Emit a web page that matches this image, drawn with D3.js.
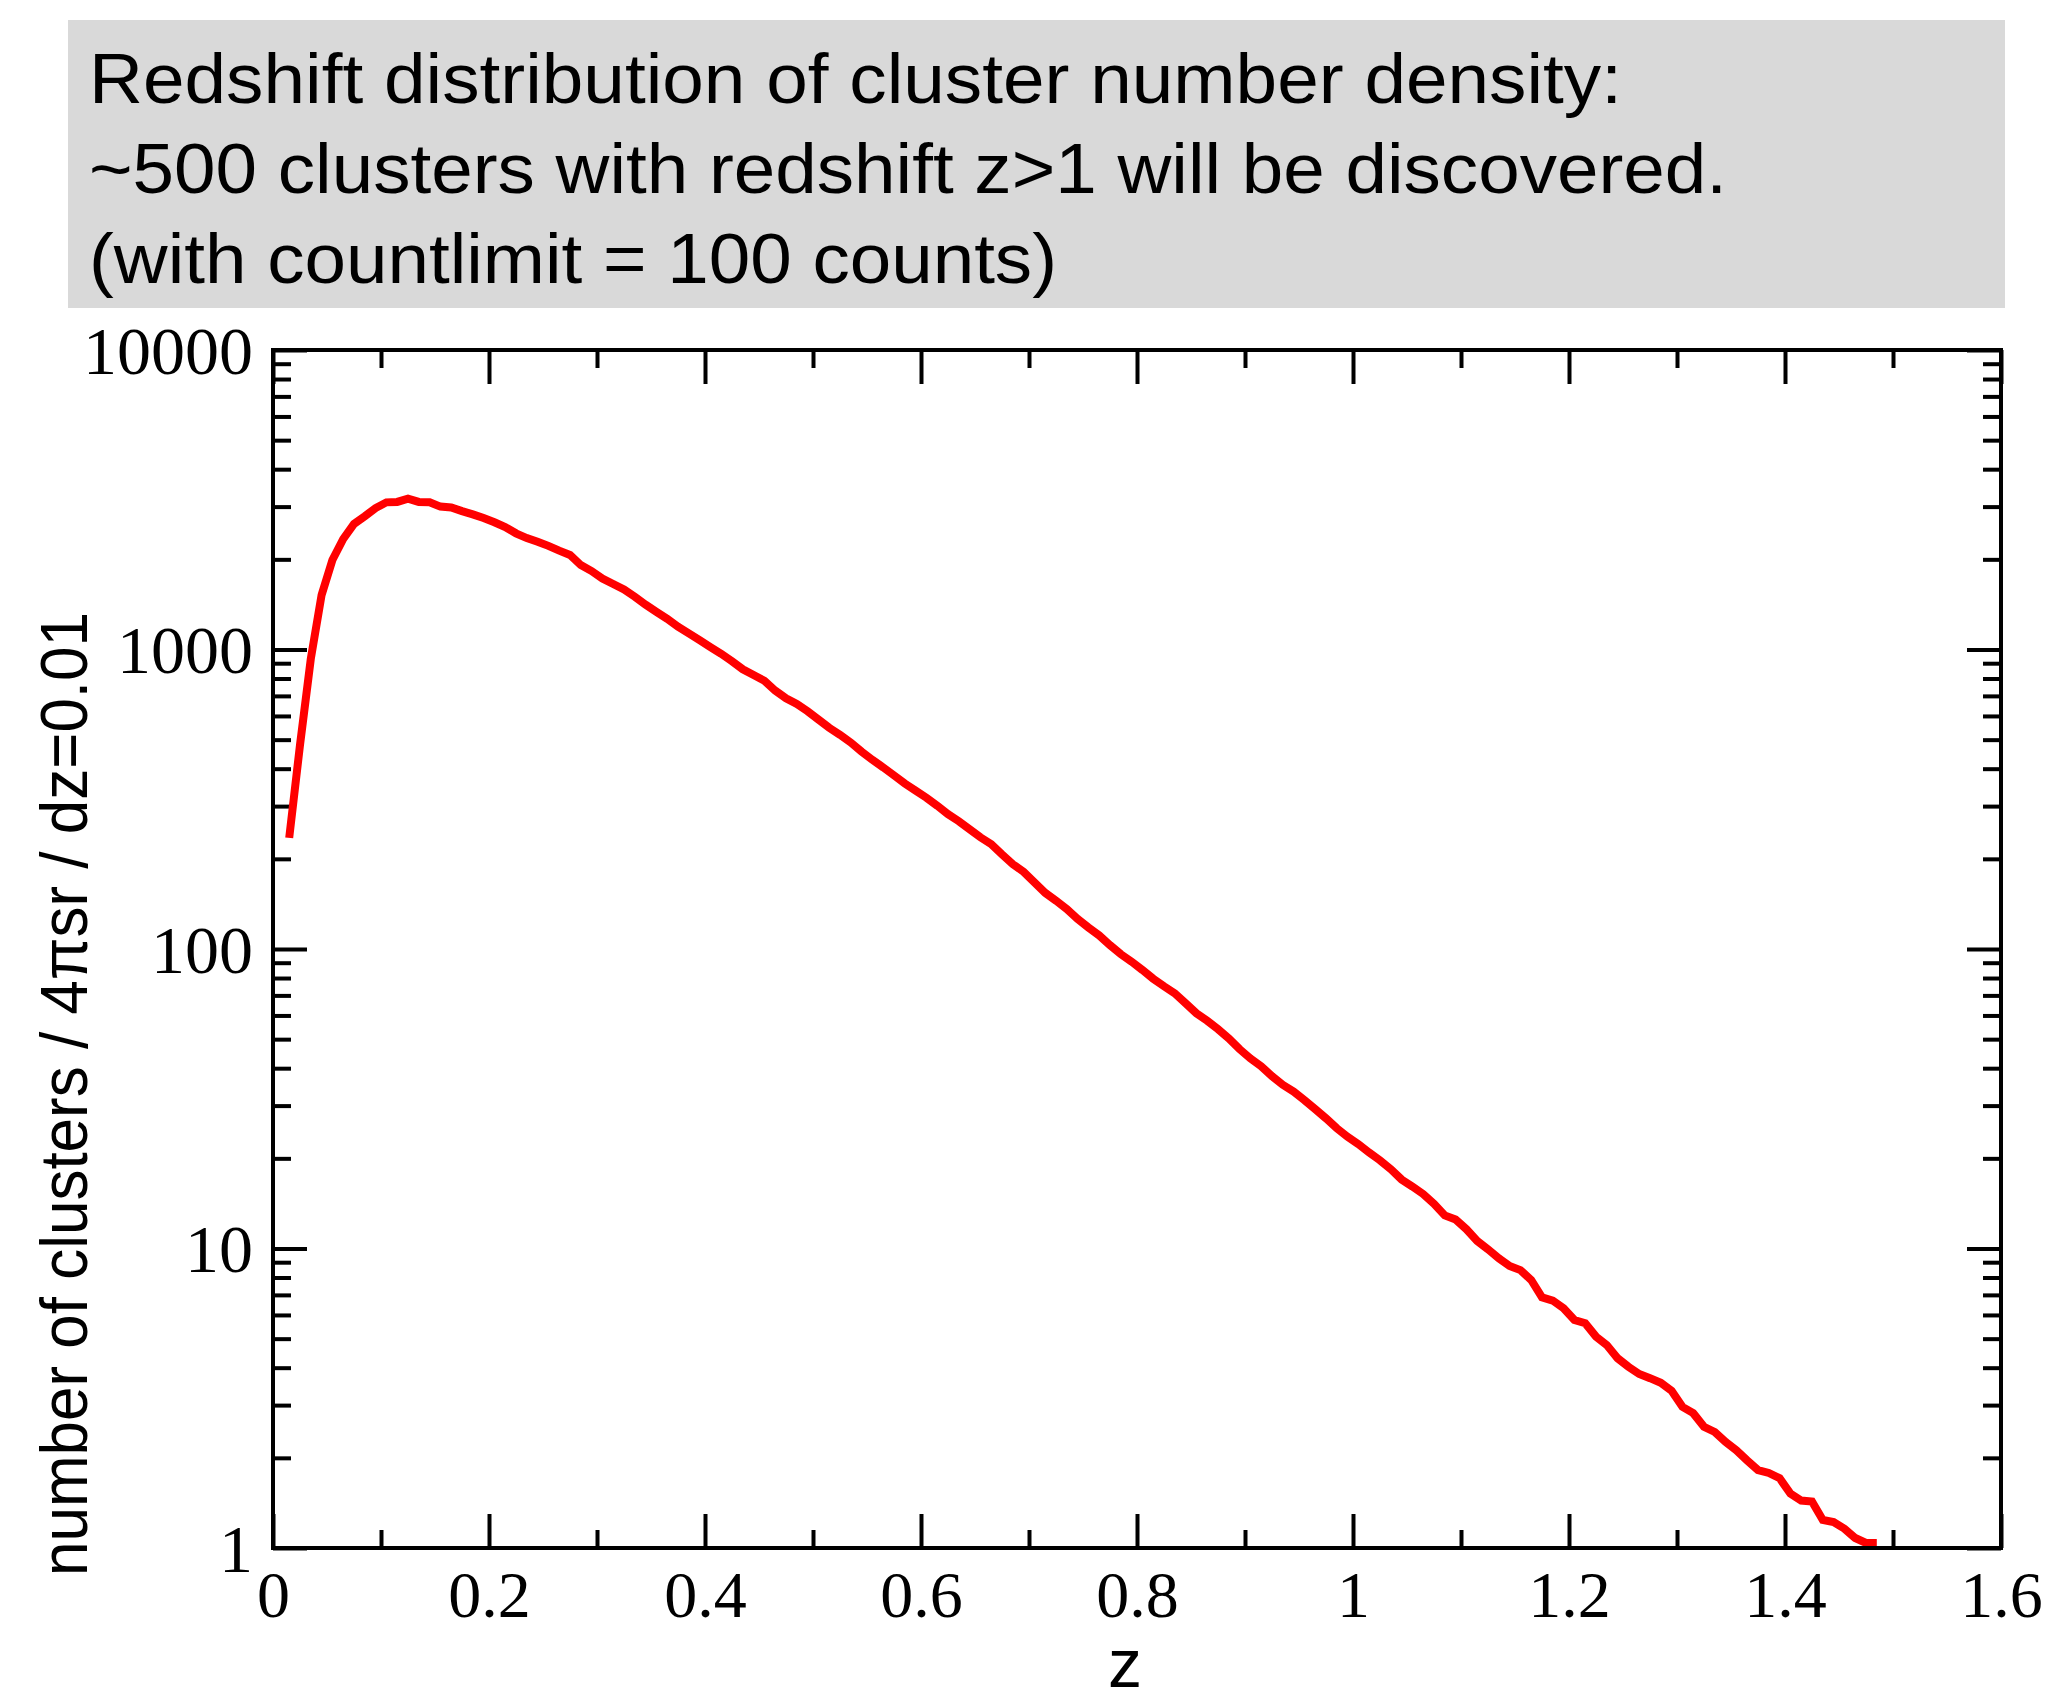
<!DOCTYPE html>
<html><head><meta charset="utf-8">
<script src="https://cdn.jsdelivr.net/npm/d3@7"></script>
<style>body{margin:0;background:#fff;} svg{display:block;}</style>
</head><body>
<svg id="chart" width="2051" height="1703"></svg>
<script>
// ---- data ----
const titleLines = [
  "Redshift distribution of cluster number density:",
  "~500 clusters with redshift z>1 will be discovered.",
  "(with countlimit = 100 counts)"
];
const xLabel = "z";
const yLabel = "number of clusters / 4\u03C0sr / dz=0.01";
const xTickValues = [0, 0.2, 0.4, 0.6, 0.8, 1.0, 1.2, 1.4, 1.6];
const xTickLabels = ["0", "0.2", "0.4", "0.6", "0.8", "1", "1.2", "1.4", "1.6"];
const xMinorTicks = [0.1, 0.3, 0.5, 0.7, 0.9, 1.1, 1.3, 1.5];
const yTickValues = [1, 10, 100, 1000, 10000];
const yTickLabels = ["1", "10", "100", "1000", "10000"];
const yMinorTicks = [2,3,4,5,6,7,8,9,20,30,40,50,60,70,80,90,200,300,400,500,600,700,800,900,2000,3000,4000,5000,6000,7000,8000,9000];

const redshift = [
  0.015,0.025,0.035,0.045,0.055,0.065,0.075,0.085,0.095,
  0.105,0.115,0.125,0.135,0.145,0.155,0.165,0.175,0.185,0.195,
  0.205,0.215,0.225,0.235,0.245,0.255,0.265,0.275,0.285,0.295,
  0.305,0.315,0.325,0.335,0.345,0.355,0.365,0.375,0.385,0.395,
  0.405,0.415,0.425,0.435,0.445,0.455,0.465,0.475,0.485,0.495,
  0.505,0.515,0.525,0.535,0.545,0.555,0.565,0.575,0.585,0.595,
  0.605,0.615,0.625,0.635,0.645,0.655,0.665,0.675,0.685,0.695,
  0.705,0.715,0.725,0.735,0.745,0.755,0.765,0.775,0.785,0.795,
  0.805,0.815,0.825,0.835,0.845,0.855,0.865,0.875,0.885,0.895,
  0.905,0.915,0.925,0.935,0.945,0.955,0.965,0.975,0.985,0.995,
  1.005,1.015,1.025,1.035,1.045,1.055,1.065,1.075,1.085,1.095,
  1.105,1.115,1.125,1.135,1.145,1.155,1.165,1.175,1.185,1.195,
  1.205,1.215,1.225,1.235,1.245,1.255,1.265,1.275,1.285,1.295,
  1.305,1.315,1.325,1.335,1.345,1.355,1.365,1.375,1.385,1.395,
  1.405,1.415,1.425,1.435,1.445,1.455,1.465,1.475,1.485
];
const clusterCounts = [
  235,480,930,1521,1990,2339,2627,2786,2967,
  3100,3110,3190,3110,3100,3000,2979,2898,2826,2748,
  2660,2565,2443,2355,2290,2218,2139,2069,1914,1828,
  1726,1655,1586,1500,1412,1336,1266,1191,1132,1074,
  1019,968,914,859,822,786,729,687,658,622,
  584,548,519,489,456,428,404,380,357,338,
  320,301,282,267,251,236,224,207,192,181,
  167,154,145,136,126,118,111,103,96.1,90.7,
  85.1,79.6,75.1,71.1,65.9,61.0,57.6,54.0,50.3,46.3,
  43.1,40.6,37.6,35.2,33.4,31.3,29.2,27.2,25.2,23.6,
  22.3,20.9,19.7,18.4,17.0,16.1,15.2,14.1,12.9,12.5,
  11.6,10.6,9.94,9.27,8.74,8.47,7.85,6.87,6.70,6.32,
  5.77,5.63,5.08,4.76,4.30,4.03,3.81,3.69,3.56,3.35,
  2.96,2.82,2.54,2.44,2.26,2.12,1.96,1.82,1.78,1.71,
  1.52,1.44,1.43,1.24,1.22,1.16,1.08,1.04,1.04
];

// ---- layout ----
const svg = d3.select("#chart");
const plot = {left: 273, right: 2001, top: 350, bottom: 1548};
const x = d3.scaleLinear().domain([0, 1.6]).range([plot.left, plot.right]);
const y = d3.scaleLog().domain([1, 10000]).range([plot.bottom, plot.top]);

// title box
svg.append("rect").attr("x", 68).attr("y", 20).attr("width", 1937).attr("height", 288)
  .attr("fill", "#d9d9d9");
const titleWidths = [1533, 1638, 968];
titleLines.forEach((t, i) => {
  svg.append("text").attr("x", 89).attr("y", 103 + i * 90)
    .attr("font-family", "'Liberation Sans', Arial, sans-serif").attr("font-size", 70)
    .attr("textLength", titleWidths[i]).attr("lengthAdjust", "spacingAndGlyphs")
    .attr("fill", "#000").text(t);
});

const tickFont = "'Liberation Serif', 'Times New Roman', serif";
function styleAxis(g) {
  g.select(".domain").remove();
  g.selectAll(".tick line").attr("stroke", "#000").attr("stroke-width", 4);
}

// bottom axis
const gB = svg.append("g").attr("transform", `translate(0,${plot.bottom})`)
  .call(d3.axisBottom(x).tickValues(xTickValues).tickSize(-34)
    .tickFormat((d, i) => xTickLabels[i]));
styleAxis(gB);
gB.selectAll(".tick text").attr("y", 69).attr("dy", null)
  .attr("font-family", tickFont).attr("font-size", 66).attr("fill", "#000");
const gBm = svg.append("g").attr("transform", `translate(0,${plot.bottom})`)
  .call(d3.axisBottom(x).tickValues(xMinorTicks).tickSize(-18).tickFormat(""));
styleAxis(gBm);

// top axis
const gT = svg.append("g").attr("transform", `translate(0,${plot.top})`)
  .call(d3.axisTop(x).tickValues(xTickValues).tickSize(-34).tickFormat(""));
styleAxis(gT);
const gTm = svg.append("g").attr("transform", `translate(0,${plot.top})`)
  .call(d3.axisTop(x).tickValues(xMinorTicks).tickSize(-18).tickFormat(""));
styleAxis(gTm);

// left axis
const gL = svg.append("g").attr("transform", `translate(${plot.left},0)`)
  .call(d3.axisLeft(y).tickValues(yTickValues).tickSize(-34).tickPadding(20)
    .tickFormat((d, i) => yTickLabels[i]));
styleAxis(gL);
gL.selectAll(".tick text").attr("dy", "0.34em")
  .attr("font-family", tickFont).attr("font-size", 68).attr("fill", "#000");
const gLm = svg.append("g").attr("transform", `translate(${plot.left},0)`)
  .call(d3.axisLeft(y).tickValues(yMinorTicks).tickSize(-18).tickFormat(""));
styleAxis(gLm);

// right axis
const gR = svg.append("g").attr("transform", `translate(${plot.right},0)`)
  .call(d3.axisRight(y).tickValues(yTickValues).tickSize(-34).tickFormat(""));
styleAxis(gR);
const gRm = svg.append("g").attr("transform", `translate(${plot.right},0)`)
  .call(d3.axisRight(y).tickValues(yMinorTicks).tickSize(-18).tickFormat(""));
styleAxis(gRm);

// data line
const pts = redshift.map((z, i) => ({z, v: clusterCounts[i]}));
svg.append("path").datum(pts)
  .attr("d", d3.line().x(d => x(d.z)).y(d => y(d.v)))
  .attr("fill", "none").attr("stroke", "#ff0000").attr("stroke-width", 8)
  .attr("stroke-linejoin", "miter");

// frame
svg.append("rect").attr("x", plot.left).attr("y", plot.top)
  .attr("width", plot.right - plot.left).attr("height", plot.bottom - plot.top)
  .attr("fill", "none").attr("stroke", "#000").attr("stroke-width", 4);

// axis titles
svg.append("text").attr("x", 1125).attr("y", 1687).attr("text-anchor", "middle")
  .attr("font-family", "'Liberation Sans', Arial, sans-serif").attr("font-size", 68)
  .attr("fill", "#000").text(xLabel);
svg.append("text").attr("transform", "translate(87,1094) rotate(-90)")
  .attr("text-anchor", "middle")
  .attr("font-family", "'Liberation Sans', Arial, sans-serif").attr("font-size", 66)
  .attr("textLength", 964).attr("lengthAdjust", "spacingAndGlyphs")
  .attr("fill", "#000").text(yLabel);
</script>
</body></html>
